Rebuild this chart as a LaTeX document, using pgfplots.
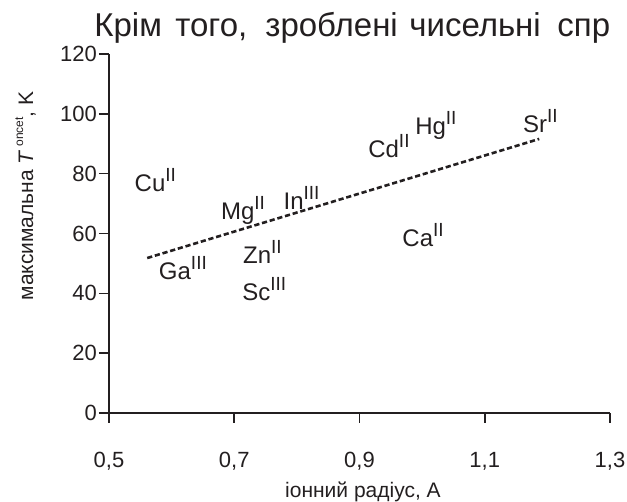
\documentclass[border=0pt]{standalone}
\usepackage{fontspec}
\setmainfont{Liberation Sans}
\usepackage{pgfplots}
\pgfplotsset{compat=1.18}
\definecolor{ink}{RGB}{35,31,32}
\protected\def\sups#1{\raisebox{5.3pt}{\fontsize{9.5}{9.5}\selectfont #1}}
\begin{document}
\begin{tikzpicture}
\path[use as bounding box] (-54.5pt,-44.5pt) rectangle (259pt,206.5pt);
\clip (-54.5pt,-44.5pt) rectangle (259pt,206.5pt);
\begin{axis}[
  at={(0,0)}, anchor=south west,
  scale only axis, width=250.5pt, height=179.5pt,
  xmin=0.5, xmax=1.3, ymin=0, ymax=120,
  axis lines=left,
  axis line style={-, line width=0.8pt, draw=ink},
  tick align=outside, major tick length=5pt,
  tick style={line width=0.8pt, draw=ink},
  xtick={0.5,0.7,0.9,1.1,1.3},
  xticklabels={{0,5},{0,7},{0,9},{1,1},{1,3}},
  ytick={0,20,40,60,80,100,120},
  yticklabels={0,20,40,60,80,100,120},
  ticklabel style={font=\fontsize{11}{11}\selectfont, text=ink},
  xticklabel style={yshift=-11pt},
  yticklabel style={xshift=2.5pt},
  xlabel={іонний радіус, A},
  ylabel={максимальна \textit{T}\,\raisebox{5pt}{\fontsize{6}{6}\selectfont oncet}, K},
  label style={font=\fontsize{10.5}{10.5}\selectfont, text=ink},
  xlabel style={at={(axis description cs:0.507,0)}, anchor=base, yshift=-42.5pt},
  ylabel style={at={(axis description cs:-0.1667,0.6045)}, anchor=center},
  clip=false,
]
\addplot[ink, line width=1.3pt, dash pattern=on 2.6pt off 1.4pt] coordinates {(0.561,51.8) (1.187,91.6)};
\addplot[draw=none, mark=none, point meta=explicit symbolic,
  nodes near coords, nodes near coords align={center},
  every node near coord/.append style={anchor=center, inner sep=0pt, text depth=0pt, font=\fontsize{12}{12}\selectfont, text=ink}]
  coordinates {
  (0.574,77.9) [Cu\sups{II}]
  (0.714,68.5) [Mg\sups{II}]
  (0.8075,71.9) [In\sups{III}]
  (0.618,48.5) [Ga\sups{III}]
  (0.745,53.8) [Zn\sups{II}]
  (0.748,41.5) [Sc\sups{III}]
  (0.947,89.3) [Cd\sups{II}]
  (1.022,97.0) [Hg\sups{II}]
  (1.189,97.6) [Sr\sups{II}]
  (1.0016,59.5) [Ca\sups{II}]
  };
\end{axis}
\begin{scope}[every node/.style={anchor=base west, inner sep=0pt, font=\fontsize{16.5}{16.5}\selectfont, text=ink}]
\node at (-7.5pt,188pt) {Крім};
\node at (33pt,188pt) {того,};
\node at (78pt,188pt) {зроблені};
\node at (150pt,188pt) {чисельні};
\node at (224pt,188pt) {спр};
\end{scope}
\end{tikzpicture}
\end{document}
